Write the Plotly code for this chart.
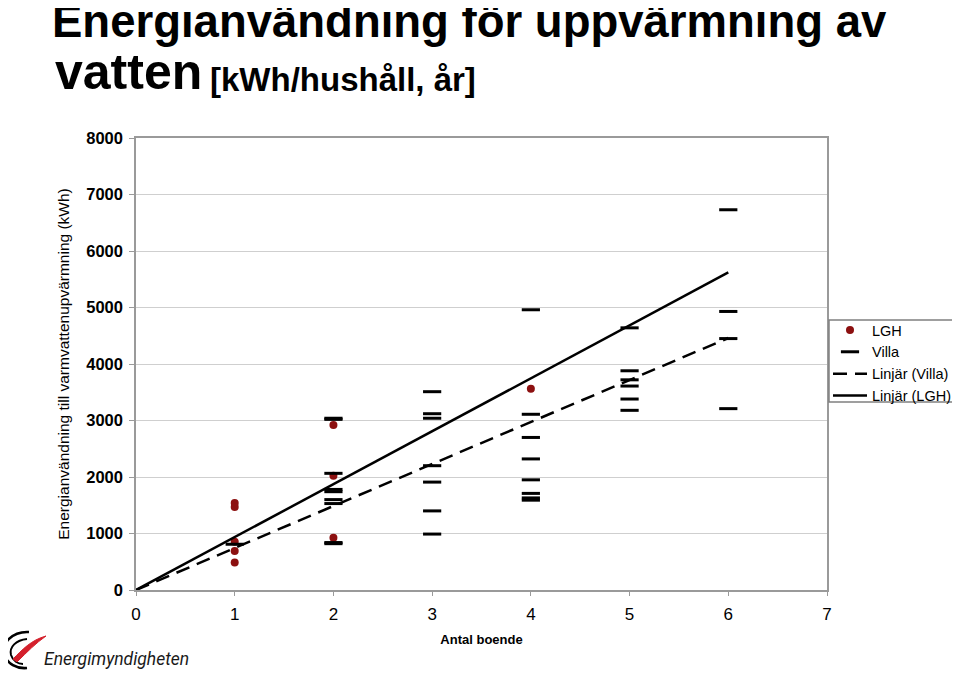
import plotly.graph_objects as go

# ---------------- data ----------------
lgh_x = [1, 1, 1, 1, 1, 2, 2, 2, 4]
lgh_y = [1540, 1470, 855, 690, 485, 2920, 2020, 925, 3560]

villa_x = [1,
           2, 2, 2, 2, 2, 2, 2, 2, 2,
           3, 3, 3, 3, 3, 3, 3,
           4, 4, 4, 4, 4, 4, 4, 4,
           5, 5, 5, 5, 5, 5,
           6, 6, 6, 6]
villa_y = [810,
           3040, 3020, 2065, 1780, 1740, 1600, 1530, 840, 820,
           3510, 3120, 3040, 2200, 1910, 1400, 990,
           4960, 3110, 2700, 2320, 1950, 1710, 1630, 1590,
           4640, 3880, 3720, 3610, 3380, 3180,
           6730, 4930, 4450, 3210]

trend_x = [0, 6]
villa_trend = [0, 4460]
lgh_trend = [0, 5620]

x_ticks = [0, 1, 2, 3, 4, 5, 6, 7]
y_ticks = [0, 1000, 2000, 3000, 4000, 5000, 6000, 7000, 8000]

# ---------------- layout helpers ----------------
OFF = 8  # page body margin
W, H = 960 - OFF, 673 - OFF
L, R, T, B = 136, 827, 138, 590  # plot area in reference pixels


def px(x):
    return (x - L) / (R - L)


def py(y):
    return (B - y) / (B - T)


FONT = "Liberation Sans, Arial, Helvetica, sans-serif"

fig = go.Figure()

fig.add_trace(go.Scatter(
    x=lgh_x, y=lgh_y, mode="markers", name="LGH",
    marker=dict(symbol="circle", size=8, color="#8c1010"),
))
fig.add_trace(go.Scatter(
    x=villa_x, y=villa_y, mode="markers", name="Villa",
    marker=dict(symbol="line-ew", size=13, color="black",
                line=dict(color="black", width=3)),
))
fig.add_trace(go.Scatter(
    x=trend_x, y=villa_trend, mode="lines", name="Linjär (Villa)",
    line=dict(color="black", width=2.5, dash="14px,8px"),
))
fig.add_trace(go.Scatter(
    x=trend_x, y=lgh_trend, mode="lines", name="Linjär (LGH)",
    line=dict(color="black", width=2.5),
))

# ---------------- annotations ----------------
annotations = [
    dict(text="<b>Energianvändning för uppvärmning av</b>", x=px(50), y=py(21),
         xanchor="left", yanchor="middle", font=dict(size=45.5, color="black", family=FONT)),
    dict(text="<b>vatten</b>", x=px(53), y=py(72),
         xanchor="left", yanchor="middle", font=dict(size=50, color="black", family=FONT)),
    dict(text="<b>[kWh/hushåll, år]</b>", x=px(208), y=py(80),
         xanchor="left", yanchor="middle", font=dict(size=33, color="black", family=FONT)),
    dict(text="<i>Energimyndigheten</i>", x=px(42), y=py(659),
         xanchor="left", yanchor="middle",
         font=dict(size=17.5, color="#1a1a1a", family="Roboto, Liberation Sans, sans-serif")),
]
for a in annotations:
    a.update(xref="paper", yref="paper", showarrow=False)


def path(cmds):
    out = []
    for c in cmds:
        if isinstance(c, str):
            out.append(c)
        else:
            out.append(f"{px(c[0]):.5f},{py(c[1]):.5f}")
    return " ".join(out)


shapes = [
    dict(type="path", xref="paper", yref="paper",
         path=path(["M", (29, 632), "C", (12, 631), (1, 644), (4, 654),
                    "C", (7, 664), (17, 669), (27, 668)]),
         line=dict(color="black", width=2.6)),
    dict(type="path", xref="paper", yref="paper",
         path=path(["M", (27, 639), "C", (16, 640), (9, 647), (11, 655),
                    "C", (13, 661), (18, 664), (23, 664)]),
         line=dict(color="black", width=2)),
    dict(type="path", xref="paper", yref="paper",
         path=path(["M", (13, 659), "C", (22, 650), (31, 640), (46, 636),
                    "C", (36, 643), (27, 652), (17, 662), "Z"]),
         fillcolor="#d4202c", line=dict(color="#d4202c", width=1)),
    # legend frame
    dict(type="path", xref="paper", yref="paper",
         path=path(["M", (829, 320), "L", (957, 320), "L", (957, 402),
                    "L", (829, 402), "Z"]),
         line=dict(color="#808080", width=1.5), layer="above"),
]

fig.update_layout(
    width=W, height=H,
    margin=dict(l=L - OFF, r=W - (R - OFF), t=T - OFF, b=H - (B - OFF), pad=0,
                autoexpand=False),
    paper_bgcolor="white", plot_bgcolor="white",
    font=dict(family=FONT, color="black"),
    showlegend=True,
    legend=dict(x=px(828), y=py(314), xanchor="left", yanchor="top",
                borderwidth=0, bgcolor="rgba(0,0,0,0)",
                font=dict(size=14.5, family=FONT, color="black"),
                tracegroupgap=0, itemwidth=34),
    annotations=annotations,
    shapes=shapes,
    xaxis=dict(range=[0, 7], tickvals=x_ticks, ticktext=[str(v) for v in x_ticks],
               showgrid=False, zeroline=False, automargin=False,
               showline=True, linecolor="#9a9a9a", linewidth=1.5, mirror=True,
               ticks="outside", ticklen=4, tickcolor="#9a9a9a",
               ticklabelstandoff=4,
               tickfont=dict(size=17, family=FONT, color="black"),
               title=dict(text="<b>Antal boende</b>", standoff=12,
                          font=dict(size=13, family=FONT, color="black"))),
    yaxis=dict(range=[0, 8000], tickvals=y_ticks, ticktext=[str(v) for v in y_ticks],
               showgrid=True, gridcolor="#cfcfcf", gridwidth=1, zeroline=False,
               automargin=False,
               showline=True, linecolor="#9a9a9a", linewidth=1.5, mirror=True,
               ticks="outside", ticklen=5, tickcolor="#9a9a9a",
               ticklabelstandoff=3,
               tickfont=dict(size=16.5, family=FONT, color="black", weight="bold"),
               title=dict(text="Energianvändning till varmvattenupvärmning (kWh)", standoff=13,
                          font=dict(size=15.5, family=FONT, color="black"))),
)

fig.write_html("out.html")
